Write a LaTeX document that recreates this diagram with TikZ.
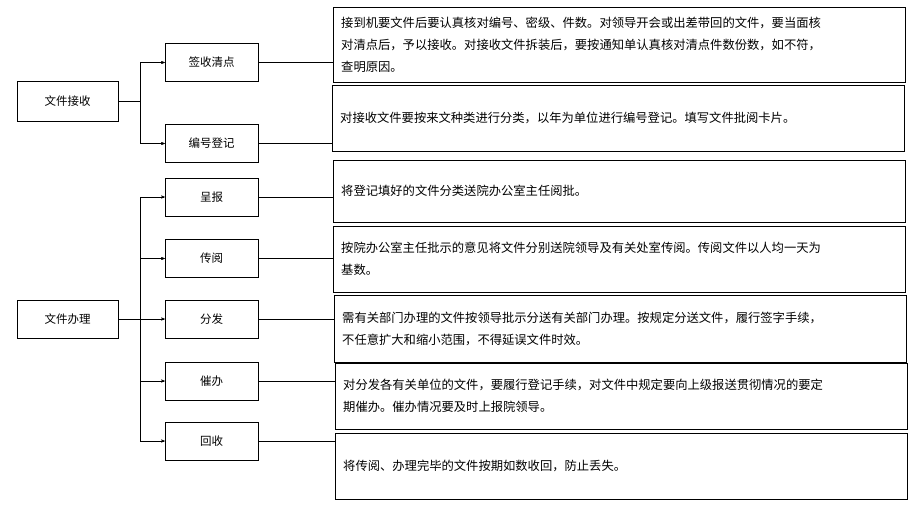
\documentclass[tikz,border=0pt]{standalone}
\usepackage{fontspec}
\setmainfont{Noto Sans CJK SC}
\usetikzlibrary{arrows,positioning}

\tikzset{
	item/.style={draw, thin, minimum width=93pt, minimum height=38pt, inner sep=0pt, font=\fontsize{11.5}{13}\selectfont},
	desc/.style={draw, thin, anchor=west, text width=556pt, inner sep=0pt, inner xsep=8pt, align=left, font=\fontsize{12.3}{22}\selectfont},
	link/.style={thin, ->, >=stealth'}
}

\begin{document}
\begin{tikzpicture}[x=1pt, y=-1pt]
	\useasboundingbox (0,0) rectangle (921,512);
	
	\node[item, minimum width=101pt, minimum height=40pt] (jieshou) at (67.5,101) {文件接收};
	\node[item] (qianshou) at (211.5,62.5) {签收清点};
	\node[item] (bianhao) at (211.5,143.5) {编号登记};
	
	\node[item, minimum width=101pt] (banli) at (67.5,319) {文件办理};
	\node[item] (chengbao) at (211.5,197) {呈报};
	\node[item] (chuanyue) at (211.5,258.5) {传阅};
	\node[item] (fenfa) at (211.5,319) {分发};
	\node[item] (cuiban) at (211.5,381) {催办};
	\node[item] (huishou) at (211.5,441) {回收};
	
	% descriptions
	\node[desc, minimum height=75pt] (d1) at (333,44.5) {接到机要文件后要认真核对编号、密级、件数。对领导开会或出差带回的文件，要当面核\\对清点后，予以接收。对接收文件拆装后，要按通知单认真核对清点件数份数，如不符，\\查明原因。};
	\node[desc, minimum height=66pt] (d2) at (332,118) {对接收文件要按来文种类进行分类，以年为单位进行编号登记。填写文件批阅卡片。};
	\node[desc, minimum height=62pt] (d3) at (333,191) {将登记填好的文件分类送院办公室主任阅批。};
	\node[desc, minimum height=66pt] (d4) at (333,259) {按院办公室主任批示的意见将文件分别送院领导及有关处室传阅。传阅文件以人均一天为\\基数。};
	\node[desc, minimum height=67pt] (d5) at (334,328.5) {需有关部门办理的文件按领导批示分送有关部门办理。按规定分送文件，履行签字手续，\\不任意扩大和缩小范围，不得延误文件时效。};
	\node[desc, minimum height=66pt] (d6) at (335,396) {对分发各有关单位的文件，要履行登记手续，对文件中规定要向上级报送贯彻情况的要定\\期催办。催办情况要及时上报院领导。};
	\node[desc, minimum height=66pt] (d7) at (335,466) {将传阅、办理完毕的文件按期如数收回，防止丢失。};
	
	% branches
	\coordinate (b1) at (140,101);
	\coordinate (b2) at (140,319);
	\draw[thin] (jieshou.east) -- (b1);
	\draw[thin] (banli.east) -- (b2);
	\draw[thin] (b1 |- qianshou.west) -- (b1 |- bianhao.west);
	\draw[thin] (b2 |- chengbao.west) -- (b2 |- huishou.west);
	\foreach \n in {qianshou,bianhao}
		\draw[link] (b1 |- \n.west) -- (\n.west);
	\foreach \n in {chengbao,chuanyue,fenfa,cuiban,huishou}
		\draw[link] (b2 |- \n.west) -- (\n.west);
	
	% to descriptions
	\draw[thin] (qianshou.east) -- (qianshou.east -| d1.west);
	\draw[thin] (bianhao.east) -- (bianhao.east -| d2.west);
	\draw[thin] (chengbao.east) -- (chengbao.east -| d3.west);
	\draw[thin] (chuanyue.east) -- (chuanyue.east -| d4.west);
	\draw[thin] (fenfa.east) -- (fenfa.east -| d5.west);
	\draw[thin] (cuiban.east) -- (cuiban.east -| d6.west);
	\draw[thin] (huishou.east) -- (huishou.east -| d7.west);
\end{tikzpicture}
\end{document}
